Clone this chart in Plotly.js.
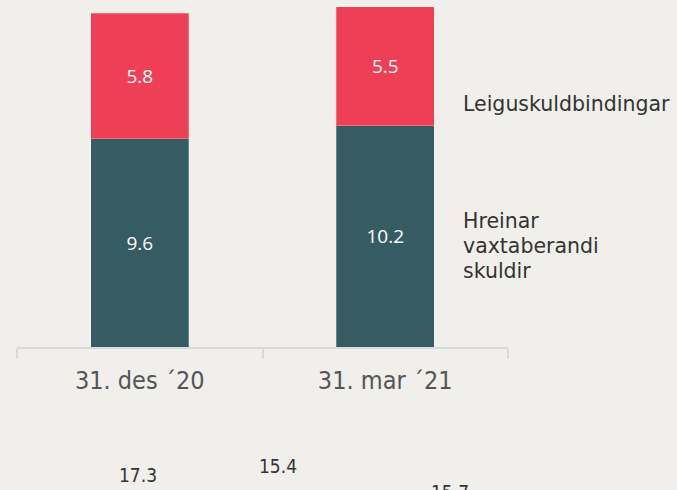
<!DOCTYPE html>
<html>
<head>
<meta charset="utf-8">
<script src="https://cdn.plot.ly/plotly-3.0.1.min.js"></script>
<style>html,body{margin:0;padding:0;background:#F0EFEB;}#chart{width:677px;height:490px;}</style>
</head>
<body>
<div id="chart"></div>
<script>
var categories = ["31. des ´20", "31. mar ´21"];
var netDebt = [9.6, 10.2];
var leaseDebt = [5.8, 5.5];
var netDebtNameLines = ["Hreinar", "vaxtaberandi", "skuldir"];
var leaseDebtName = "Leiguskuldbindingar";
var lowerValues = ["17.3", "15.4", "15.7"];

var RED = "#EF3F56", TEAL = "#365C63";
var COND = "DejaVu Sans Condensed, DejaVu Sans";

var traces = [
  {type:"bar", x:categories, y:netDebt, name:netDebtNameLines.join(" "), text:netDebt.map(function(v){return v.toFixed(1);}),
   textposition:"inside", insidetextanchor:"middle", textfont:{family:"Open Sans", size:19, color:"#FFFFFF"},
   marker:{color:TEAL, line:{color:"rgba(255,255,255,0.25)", width:1}}, width:0.4, hoverinfo:"none"},
  {type:"bar", x:categories, y:leaseDebt, name:leaseDebtName, text:leaseDebt.map(function(v){return v.toFixed(1);}),
   textposition:"inside", insidetextanchor:"middle", textfont:{family:"Open Sans", size:19, color:"#FFFFFF"},
   marker:{color:RED, line:{color:"rgba(255,255,255,0.25)", width:1}}, width:0.4, hoverinfo:"none"}
];

function px2paperX(p){ return (p-17)/491; }
function px2paperY(p){ return (347-p)/347; }

var legendFont = {family:"DejaVu Sans", size:20.5, color:"#333333"};
var ann = [
  {text:leaseDebtName, xref:"paper", yref:"paper", x:px2paperX(461), y:px2paperY(104), xanchor:"left", yanchor:"middle", showarrow:false, font:legendFont}
];
var lineY = [221, 246, 271];
netDebtNameLines.forEach(function(t, i){
  ann.push({text:t, xref:"paper", yref:"paper", x:px2paperX(461), y:px2paperY(lineY[i]), xanchor:"left", yanchor:"middle", showarrow:false, font:legendFont});
});
var lowX = [138, 278, 450], lowY = [475, 466, 492];
lowerValues.forEach(function(t, i){
  ann.push({text:t, xref:"paper", yref:"paper", x:px2paperX(lowX[i]), y:px2paperY(lowY[i]), xanchor:"center", yanchor:"middle", showarrow:false,
   font:{family:COND, size:19, color:"#333333", stretch:"condensed"}});
});

var layout = {
  width:677, height:490,
  paper_bgcolor:"#F0EFEB", plot_bgcolor:"#F0EFEB",
  margin:{l:17, r:169, t:0, b:143, pad:0},
  barmode:"stack", showlegend:false,
  xaxis:{type:"category", range:[-0.5,1.5], showline:true, linecolor:"#D9D9D9", linewidth:2,
         ticks:"outside", tickson:"boundaries", ticklen:10, tickcolor:"#D9D9D9", tickwidth:2,
         showgrid:false, zeroline:false, ticklabelstandoff:10,
         tickfont:{family:COND, size:25, color:"#555555", stretch:"condensed"}},
  yaxis:{range:[0,16], visible:false, showgrid:false, zeroline:false, fixedrange:true},
  annotations:ann
};

Plotly.newPlot("chart", traces, layout, {displayModeBar:false, staticPlot:true});
</script>
</body>
</html>
